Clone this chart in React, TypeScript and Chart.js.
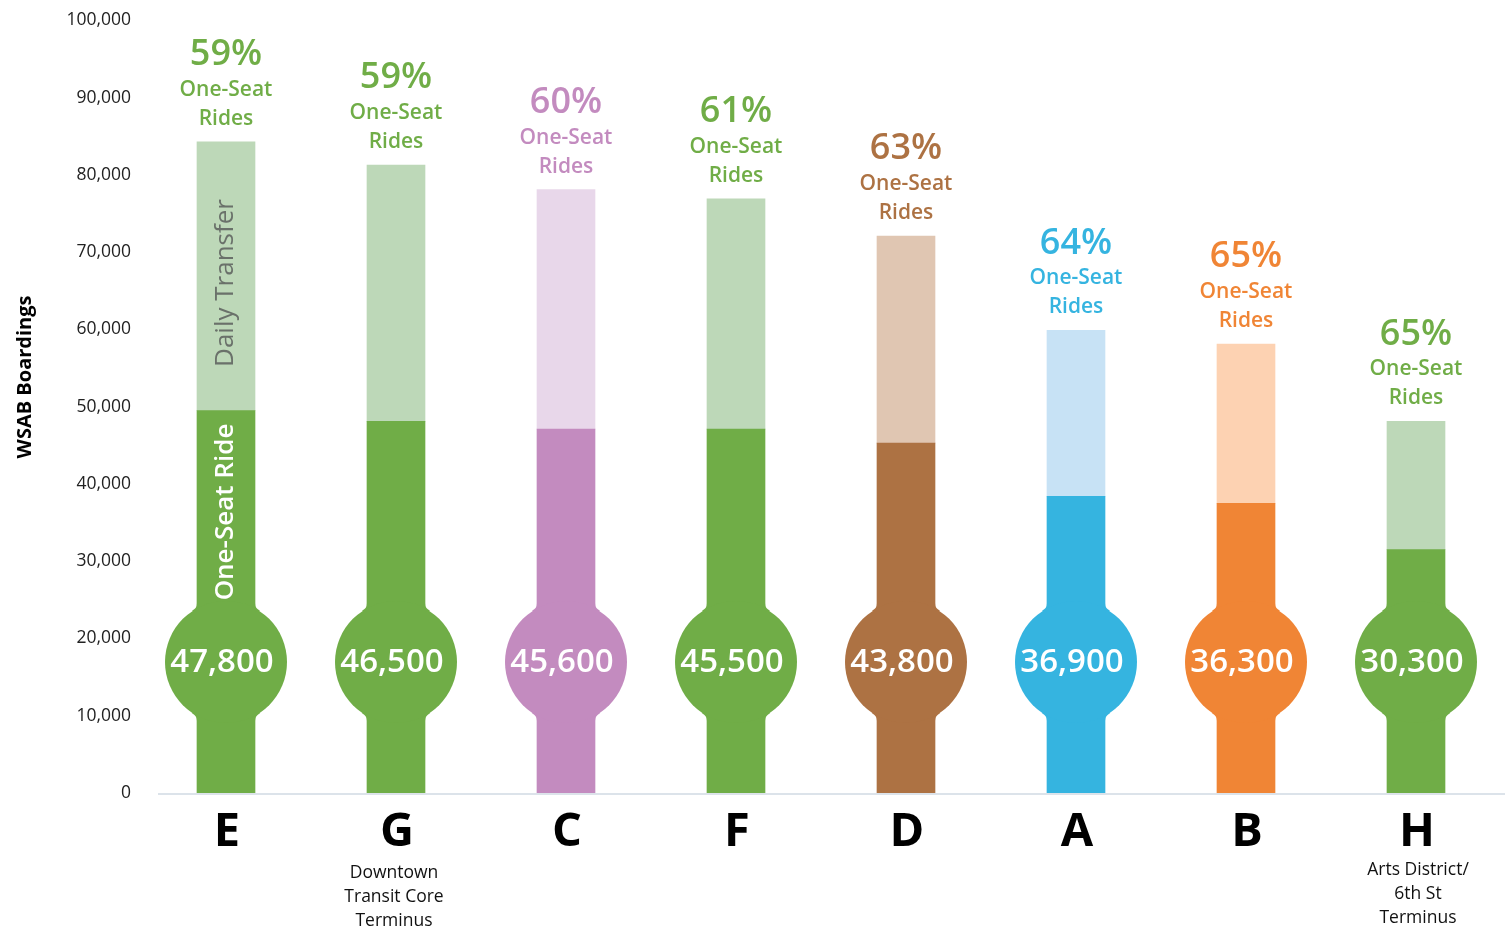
import React, { useEffect, useRef } from "react";
import { Chart, registerables } from "chart.js";

Chart.register(...registerables);

const categories = ["E", "G", "C", "F", "D", "A", "B", "H"];
const oneSeat = [49500, 48100, 47100, 47100, 45300, 38400, 37500, 31500];
const transfer = [34800, 33200, 31000, 29800, 26800, 21500, 20600, 16600];
const circleValues = ["47,800", "46,500", "45,600", "45,500", "43,800", "36,900", "36,300", "30,300"];
const percents = ["59%", "59%", "60%", "61%", "63%", "64%", "65%", "65%"];
const subLabels = [
  [],
  ["Downtown", "Transit Core", "Terminus"],
  [],
  [],
  [],
  [],
  [],
  ["Arts District/", "6th St", "Terminus"],
];
const darkColors = ["#70AD47", "#70AD47", "#C38BBF", "#70AD47", "#AD7243", "#35B4E0", "#F08535", "#70AD47"];
const lightColors = ["#BDD8B8", "#BDD8B8", "#E8D7EA", "#BDD8B8", "#E0C6B2", "#C7E2F5", "#FDD2B2", "#BDD8B8"];

const FONT = "'Open Sans', 'Noto Sans', sans-serif";

const overlay = {
  id: "overlay",
  afterDatasetsDraw(chart: any) {
    const ctx = chart.ctx;
    const area = chart.chartArea;
    const m0 = chart.getDatasetMeta(0);
    const m1 = chart.getDatasetMeta(1);
    ctx.save();
    // baseline
    ctx.strokeStyle = "#DCE3EA";
    ctx.lineWidth = 2;
    ctx.beginPath();
    ctx.moveTo(158, area.bottom + 1);
    ctx.lineTo(1505, area.bottom + 1);
    ctx.stroke();

    for (let i = 0; i < categories.length; i++) {
      const x = m0.data[i].x;
      const top = m1.data[i].y;
      const cy = area.bottom - 131;
      const r = 61;
      const hw = 29;
      ctx.fillStyle = darkColors[i];
      ctx.beginPath();
      ctx.arc(x, cy, r, 0, Math.PI * 2);
      ctx.fill();
      // small fillets joining bar and circle
      const dy = Math.sqrt(r * r - hw * hw);
      for (const s of [-1, 1]) {
        for (const v of [-1, 1]) {
          ctx.beginPath();
          ctx.moveTo(x + s * hw, cy + v * (dy + 5));
          ctx.quadraticCurveTo(x + s * hw, cy + v * dy, x + s * (hw + 5), cy + v * (dy - 2.5));
          ctx.lineTo(x + s * hw, cy + v * (dy - 4));
          ctx.closePath();
          ctx.fill();
        }
      }
      // circle value
      ctx.fillStyle = "#FFFFFF";
      ctx.font = `600 33px ${FONT}`;
      ctx.textAlign = "center";
      ctx.textBaseline = "middle";
      ctx.fillText(circleValues[i], x - 4, cy + 1);

      // labels above
      ctx.fillStyle = darkColors[i];
      ctx.font = `600 36px ${FONT}`;
      ctx.fillText(percents[i], x, top - 87);
      ctx.font = `600 21px ${FONT}`;
      ctx.fillText("One-Seat", x, top - 52);
      ctx.fillText("Rides", x, top - 23);

      // x labels
      ctx.fillStyle = "#000000";
      ctx.font = `bold 47px ${FONT}`;
      ctx.fillText(categories[i], x + 1, area.bottom + 40);
      ctx.font = `17.5px ${FONT}`;
      ctx.fillStyle = "#111111";
      const subs = subLabels[i];
      for (let k = 0; k < subs.length; k++) {
        ctx.fillText(subs[k], x + (i === 7 ? 2 : -2), area.bottom + 80 + k * 24 - (i === 7 ? 3 : 0));
      }
    }

    // rotated labels inside first bar
    const x0 = m0.data[0].x;
    ctx.save();
    ctx.translate(x0, 512);
    ctx.rotate(-Math.PI / 2);
    ctx.fillStyle = "#FFFFFF";
    ctx.font = `600 26px ${FONT}`;
    ctx.fillText("One-Seat Ride", 0, 0);
    ctx.restore();
    ctx.save();
    ctx.translate(x0, 283);
    ctx.rotate(-Math.PI / 2);
    ctx.fillStyle = "#6A716A";
    ctx.font = `26px ${FONT}`;
    ctx.fillText("Daily Transfer", 0, 0);
    ctx.restore();

    // y axis title
    ctx.save();
    ctx.translate(25, 377);
    ctx.rotate(-Math.PI / 2);
    ctx.fillStyle = "#000000";
    ctx.font = `bold 20px ${FONT}`;
    ctx.textAlign = "center";
    ctx.textBaseline = "middle";
    ctx.fillText("WSAB Boardings", 0, 0);
    ctx.restore();

    ctx.restore();
  },
};

export default function App() {
  const ref = useRef<HTMLCanvasElement>(null);
  useEffect(() => {
    if (!ref.current) return;
    const chart = new Chart(ref.current, {
      type: "bar",
      data: {
        labels: categories,
        datasets: [
          {
            label: "One-Seat Ride",
            data: oneSeat,
            backgroundColor: darkColors,
            barThickness: 58,
          },
          {
            label: "Daily Transfer",
            data: transfer,
            backgroundColor: lightColors,
            barThickness: 58,
          },
        ],
      },
      options: {
        responsive: false,
        animation: false,
        maintainAspectRatio: false,
        layout: { padding: { top: 18, right: 4, left: 0, bottom: 0 } },
        plugins: { legend: { display: false }, tooltip: { enabled: false } },
        scales: {
          x: {
            stacked: true,
            grid: { display: false },
            border: { display: false },
            ticks: { display: false },
            afterFit: (s: any) => {
              s.height = 137;
            },
          },
          y: {
            stacked: true,
            min: 0,
            max: 100000,
            grid: { display: false, drawTicks: false },
            border: { display: false },
            ticks: {
              stepSize: 10000,
              padding: 10,
              color: "#222222",
              font: { family: FONT, size: 17.5 },
              callback: (v: any) => Number(v).toLocaleString("en-US"),
            },
            afterFit: (s: any) => {
              s.width = 141;
            },
          },
        },
      },
      plugins: [overlay],
    });
    return () => chart.destroy();
  }, []);
  return (
    <div style={{ position: "fixed", left: 0, top: 0, width: 1505, height: 930, background: "#fff" }}>
      <canvas ref={ref} width={1505} height={930} style={{ width: 1505, height: 930 }} />
    </div>
  );
}
